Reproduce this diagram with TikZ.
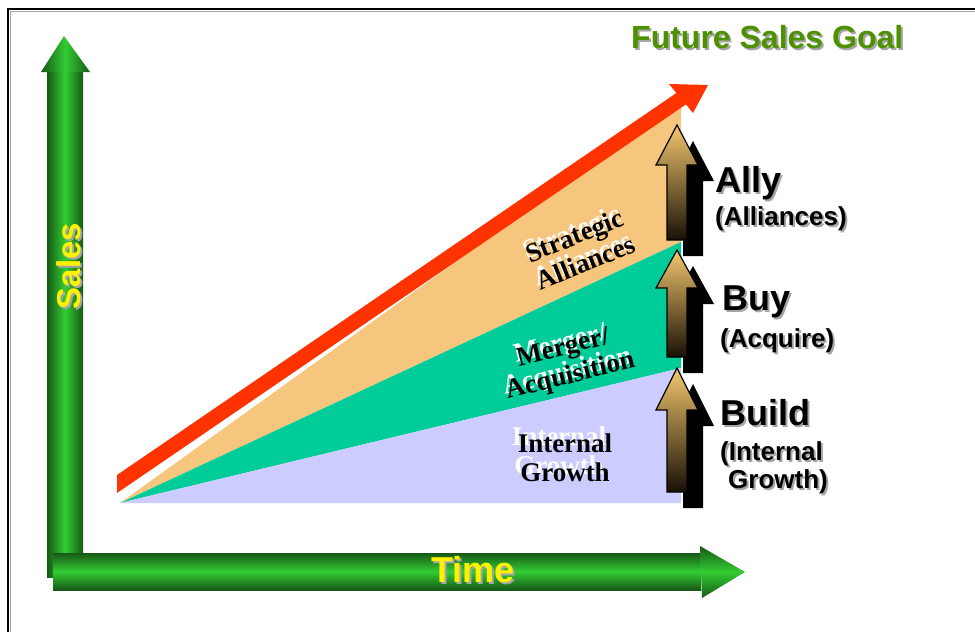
\documentclass[tikz,border=0pt]{standalone}
\usepackage{fontspec}
\setmainfont{Liberation Sans}
\newfontfamily\timesfont{Liberation Serif}

\definecolor{axisgreen}{RGB}{51,204,51}
\definecolor{axisdark}{RGB}{22,88,22}
\definecolor{goalgreen}{RGB}{77,145,0}
\definecolor{allyorange}{RGB}{246,198,126}
\definecolor{buyteal}{RGB}{0,204,153}
\definecolor{buildlilac}{RGB}{204,204,255}
\definecolor{trendred}{RGB}{255,51,0}
\definecolor{arrgold}{RGB}{244,200,110}
\definecolor{arrdark}{RGB}{24,16,6}
\definecolor{textshade}{RGB}{165,165,165}

\begin{document}
\begin{tikzpicture}[x=1pt, y=-1pt,
	sidelabel/.style={anchor=base west, inner sep=0pt},
	bandtext/.style={align=center, inner sep=0pt, font=\timesfont\bfseries\fontsize{27}{29}\selectfont},
	axisshade/.style={left color=axisdark, right color=axisdark, middle color=axisgreen},
	timeshade/.style={top color=axisdark, bottom color=axisdark, middle color=axisgreen}]

	\useasboundingbox (0,0) rectangle (975,632);
	\clip (0,0) rectangle (975,632);

	%frame
	\draw[textshade, line width=1pt] (10,700) -- (10,11) -- (1000,11);
	\draw[line width=1.5pt] (8,700) -- (8,9) -- (1000,9);

	%bands
	\fill[allyorange] (120,503) -- (681,100) -- (681,242) -- cycle;
	\fill[buyteal] (120,503) -- (681,242) -- (681,368) -- cycle;
	\fill[buildlilac] (120,503) -- (681,368) -- (681,503) -- cycle;

	%trend arrow
	\fill[trendred] (117,475) -- (676.4,93) -- (669,84) -- (708,85) -- (693,113)
		-- (686,104.4) -- (117,493) -- cycle;

	%axes
	\shade[axisshade] (47,70) rectangle (83,577);
	\shade[axisshade] (41,72) -- (64,36) -- (90,72) -- cycle;
	\shade[timeshade] (53,553) rectangle (701,590);
	\shade[timeshade] (700,546) -- (745,572) -- (702,598) -- cycle;

	\node[rotate=90, text=textshade, font=\bfseries\fontsize{33}{33}\selectfont] (sales-sh) at (71,268) {Sales};
	\node[rotate=90, text=yellow, font=\bfseries\fontsize{33}{33}\selectfont] (sales) at (69,266) {Sales};
	\node[text=textshade, font=\bfseries\fontsize{36}{36}\selectfont] (time-sh) at (475,572) {Time};
	\node[text=yellow, font=\bfseries\fontsize{36}{36}\selectfont] (time) at (473,570) {Time};

	%goal
	\node[sidelabel, text=textshade, font=\bfseries\fontsize{32}{32}\selectfont] (goal-sh) at (633,50) {Future Sales Goal};
	\node[sidelabel, text=goalgreen, font=\bfseries\fontsize{32}{32}\selectfont] (goal) at (631,48) {Future Sales Goal};

	%up arrows
	\foreach \tip/\base/\bot in {125/165/240, 250/288/357, 368/410/492}
	{
		\fill[black, shift={(16,16)}] (667,\bot) -- (667,\base) -- (656,\base) -- (677,\tip)
			-- (698,\base) -- (687,\base) -- (687,\bot) -- cycle;
		\shadedraw[top color=arrgold, bottom color=arrdark, draw=black, line width=1.2pt]
			(667,\bot) -- (667,\base) -- (656,\base) -- (677,\tip)
			-- (698,\base) -- (687,\base) -- (687,\bot) -- cycle;
	}

	%side labels
	\foreach \nm/\px/\py/\fs/\txt in {ally/715/192/36/Ally, alliances/715/225/26/(Alliances),
		buy/722/310/36/Buy, acquire/720/347/26/(Acquire), build/720/425/36/Build,
		internal/720/460/26/(Internal, growth/728/488/26/Growth)}
	{
		\node[sidelabel, text=textshade, font=\bfseries\fontsize{\fs}{\fs}\selectfont] (\nm-sh) at (\px+2,\py+2) {\txt};
		\node[sidelabel, font=\bfseries\fontsize{\fs}{\fs}\selectfont] (\nm) at (\px,\py) {\txt};
	}

	%band labels
	\node[bandtext, rotate=22, text=white] (strategic-sh) at (577,245) {Strategic\\Alliances};
	\node[bandtext, rotate=22] (strategic) at (580,249) {Strategic\\Alliances};
	\node[bandtext, rotate=14, text=white] (merger-sh) at (564,359) {Merger/\\Acquisition};
	\node[bandtext, rotate=14] (merger) at (567,363) {Merger/\\Acquisition};
	\node[bandtext, text=white] (internal-sh) at (559,451) {Internal\\Growth};
	\node[bandtext] (internal-gr) at (565,458) {Internal\\Growth};
\end{tikzpicture}
\end{document}
